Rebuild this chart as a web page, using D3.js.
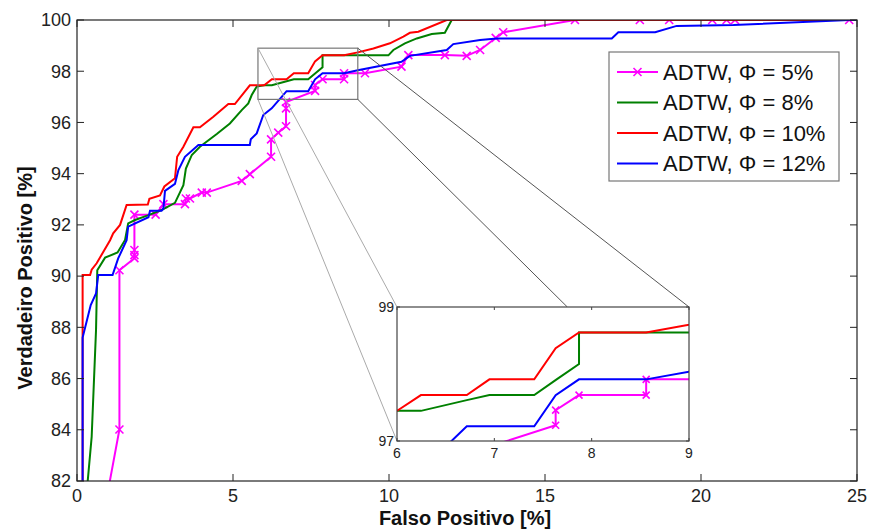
<!DOCTYPE html>
<html>
<head>
<meta charset="utf-8">
<script src="https://cdn.jsdelivr.net/npm/d3@7"></script>
<style>
	body { margin: 0; background: #fff; }
	svg { font-family: "Liberation Sans", Arial, sans-serif; }
</style>
</head>
<body>
<svg width="869" height="529"></svg>
<script>
// ROC curves, false positive [%] vs true positive [%]
const seriesNames = ['ADTW, \u03A6 = 5%', 'ADTW, \u03A6 = 8%', 'ADTW, \u03A6 = 10%', 'ADTW, \u03A6 = 12%'];
const seriesColors = ['#ff00ff', '#008000', '#ff0000', '#0000ff'];

const phi5X = [0.9, 1.36, 1.36, 1.84, 1.84, 1.84, 1.84, 2.52, 2.77, 3.46, 3.49, 3.62, 4.0, 4.16, 5.28, 5.54, 6.22, 6.22, 6.45, 6.7, 6.7, 6.7, 7.63, 7.63, 7.87, 8.56, 8.56, 9.23, 10.4, 10.62, 11.79, 12.49, 12.92, 13.42, 13.66, 15.96, 18.04, 18.98, 20.36, 20.82, 21.09, 24.75];
const phi5Y = [81, 84.01, 90.23, 90.7, 90.82, 91.02, 92.4, 92.4, 92.81, 92.81, 93.03, 93.03, 93.26, 93.26, 93.72, 93.98, 94.66, 95.34, 95.6, 95.85, 96.55, 96.8, 97.235, 97.46, 97.685, 97.685, 97.92, 97.92, 98.18, 98.63, 98.63, 98.6, 98.83, 99.3, 99.52, 100, 100, 100, 100, 100, 100, 100];

const phi8X = [0.27, 0.47, 0.61, 0.65, 0.9, 1.3, 1.54, 1.64, 1.86, 2.29, 2.71, 3.14, 3.41, 3.49, 3.68, 3.94, 4.48, 4.9, 5.28, 5.49, 5.6, 5.76, 6.0, 6.246, 6.717, 6.95, 7.41, 7.64, 7.87, 7.87, 9.98, 10.14, 10.51, 10.89, 11.37, 11.79, 12.01, 25];
const phi8Y = [81, 83.72, 87.9, 90.23, 90.72, 90.92, 91.41, 92.06, 92.19, 92.38, 92.58, 92.86, 93.55, 94.2, 94.73, 95.05, 95.55, 95.96, 96.48, 96.74, 97.07, 97.4, 97.45, 97.45, 97.61, 97.685, 97.685, 97.92, 98.15, 98.62, 98.62, 98.83, 99.09, 99.28, 99.45, 99.5, 100, 100];

const phi10X = [0.18, 0.18, 0.42, 0.47, 0.63, 1.06, 1.16, 1.38, 1.59, 2.27, 2.32, 2.66, 2.8, 3.14, 3.21, 3.41, 3.73, 3.94, 4.37, 4.85, 5.06, 5.54, 6.0, 6.246, 6.717, 6.95, 7.41, 7.63, 7.87, 8.56, 9.0, 9.5, 10.03, 10.46, 10.67, 10.94, 11.85, 25];
const phi10Y = [80, 90.04, 90.04, 90.25, 90.5, 91.4, 91.67, 92.0, 92.78, 92.8, 93.02, 93.15, 93.5, 93.82, 94.66, 95.05, 95.81, 95.81, 96.22, 96.72, 96.72, 97.45, 97.45, 97.685, 97.685, 97.92, 97.92, 98.385, 98.62, 98.62, 98.735, 98.89, 99.09, 99.35, 99.5, 99.54, 100, 100];

const phi12X = [0.18, 0.18, 0.44, 0.61, 0.68, 1.14, 1.32, 1.59, 1.64, 2.29, 2.34, 2.71, 2.77, 2.82, 3.14, 3.25, 3.46, 3.89, 5.54, 5.57, 5.76, 5.97, 6.24, 6.56, 6.717, 7.41, 7.63, 7.87, 8.56, 9.0, 10.4, 10.67, 11.85, 12.06, 12.92, 13.45, 17.14, 17.35, 18.53, 19.22, 21.04, 24.75, 25];
const phi12Y = [80, 87.6, 88.87, 89.32, 90.04, 90.04, 90.69, 91.4, 91.93, 92.3, 92.55, 92.55, 92.64, 93.33, 93.6, 94.14, 94.66, 95.12, 95.12, 95.34, 95.57, 96.29, 96.55, 97.0, 97.22, 97.22, 97.685, 97.92, 97.92, 98.035, 98.37, 98.6, 98.83, 99.06, 99.22, 99.28, 99.28, 99.52, 99.52, 99.77, 99.8, 100, 100];

const xTicks = [0, 5, 10, 15, 20, 25];
const yTicks = [82, 84, 86, 88, 90, 92, 94, 96, 98, 100];
const insetXTicks = [6, 7, 8, 9];
const insetYTicks = [97, 99];
// zoomed region as drawn on the main axes
const zoomBoxX = [5.8, 9];
const zoomBoxY = [96.9, 98.9];

const series = [
	{ x: phi5X, y: phi5Y, marker: true },
	{ x: phi8X, y: phi8Y },
	{ x: phi10X, y: phi10Y },
	{ x: phi12X, y: phi12Y },
].map((s, i) => ({
	name: seriesNames[i],
	color: seriesColors[i],
	marker: !!s.marker,
	points: s.x.map((v, j) => [v, s.y[j]]),
}));

const svg = d3.select('svg');
const margin = { top: 20, left: 77 };
const width = 780;
const height = 461;

const xScale = d3.scaleLinear().domain([0, 25]).range([0, width]);
const yScale = d3.scaleLinear().domain([82, 100]).range([height, 0]);

const defs = svg.append('defs');
defs.append('clipPath').attr('id', 'clip-main')
	.append('rect').attr('width', width).attr('height', height);

const main = svg.append('g')
	.attr('transform', 'translate(' + margin.left + ',' + margin.top + ')');

function drawSeries(g, xs, ys, clipId, markerSize) {
	const line = d3.line()
		.x(d => xs(d[0]))
		.y(d => ys(d[1]));
	const plot = g.append('g').attr('clip-path', 'url(#' + clipId + ')');
	series.forEach(s => {
		plot.append('path')
			.datum(s.points)
			.attr('fill', 'none')
			.attr('stroke', s.color)
			.attr('stroke-width', 2)
			.attr('d', line);
		if (s.marker) {
			plot.selectAll(null)
				.data(s.points)
				.enter().append('path')
				.attr('transform', d => 'translate(' + xs(d[0]) + ',' + ys(d[1]) + ')')
				.attr('d', 'M' + -markerSize + ',' + -markerSize + 'L' + markerSize + ',' + markerSize +
					'M' + -markerSize + ',' + markerSize + 'L' + markerSize + ',' + -markerSize)
				.attr('stroke', s.color)
				.attr('stroke-width', 1.6);
		}
	});
}

drawSeries(main, xScale, yScale, 'clip-main', 4);

// axes box with inward ticks on all sides
function drawBox(g, xs, ys, xt, yt, tickLen, xLabelSize, yLabelSize, xLabelDy, yLabelDx, stroke) {
	const w = xs.range()[1];
	const h = ys.range()[0];
	const axes = g.append('g');
	axes.append('rect')
		.attr('width', w).attr('height', h)
		.attr('fill', 'none')
		.attr('stroke', stroke)
		.attr('stroke-width', 1.2);
	xt.forEach(t => {
		axes.append('line').attr('x1', xs(t)).attr('x2', xs(t)).attr('y1', h).attr('y2', h - tickLen)
			.attr('stroke', stroke);
		axes.append('line').attr('x1', xs(t)).attr('x2', xs(t)).attr('y1', 0).attr('y2', tickLen)
			.attr('stroke', stroke);
		axes.append('text')
			.attr('x', xs(t)).attr('y', h + xLabelDy)
			.attr('text-anchor', 'middle')
			.attr('font-size', xLabelSize)
			.attr('fill', '#222')
			.text(t);
	});
	yt.forEach(t => {
		axes.append('line').attr('x1', 0).attr('x2', tickLen).attr('y1', ys(t)).attr('y2', ys(t))
			.attr('stroke', stroke);
		axes.append('line').attr('x1', w).attr('x2', w - tickLen).attr('y1', ys(t)).attr('y2', ys(t))
			.attr('stroke', stroke);
		axes.append('text')
			.attr('x', -yLabelDx).attr('y', ys(t))
			.attr('dy', '0.35em')
			.attr('text-anchor', 'end')
			.attr('font-size', yLabelSize)
			.attr('fill', '#222')
			.text(t);
	});
}

drawBox(main, xScale, yScale, xTicks, yTicks, 7, 18, 18, 21, 6, '#222');

// zoom rectangle and inset
const insetPos = { left: 397, top: 307 };
const insetX = d3.scaleLinear().domain([6, 9]).range([0, 292]);
const insetY = d3.scaleLinear().domain([97, 99]).range([134, 0]);
const insetPx = (x, y) => [insetPos.left + insetX(x), insetPos.top + insetY(y)];
const mainPx = (x, y) => [margin.left + xScale(x), margin.top + yScale(y)];

svg.append('rect')
	.attr('x', mainPx(zoomBoxX[0], 0)[0])
	.attr('y', mainPx(0, zoomBoxY[1])[1])
	.attr('width', xScale(zoomBoxX[1]) - xScale(zoomBoxX[0]))
	.attr('height', yScale(zoomBoxY[0]) - yScale(zoomBoxY[1]))
	.attr('fill', 'none')
	.attr('stroke', '#777')
	.attr('stroke-width', 1.2);

const connectors = [
	{ from: [zoomBoxX[0], zoomBoxY[1]], to: [6, 99], color: '#aaa' },
	{ from: [zoomBoxX[0], zoomBoxY[0]], to: [6, 97], color: '#aaa' },
	{ from: [zoomBoxX[1], zoomBoxY[1]], to: [9, 99], color: '#555' },
	{ from: [zoomBoxX[1], zoomBoxY[0]], to: [7.75, 99], color: '#555' },
];
connectors.forEach(c => {
	const a = mainPx(c.from[0], c.from[1]);
	const b = insetPx(c.to[0], c.to[1]);
	svg.append('line')
		.attr('x1', a[0]).attr('y1', a[1]).attr('x2', b[0]).attr('y2', b[1])
		.attr('stroke', c.color)
		.attr('stroke-width', 1);
});

defs.append('clipPath').attr('id', 'clip-inset')
	.append('rect').attr('width', 292).attr('height', 134);

const inset = svg.append('g')
	.attr('transform', 'translate(' + insetPos.left + ',' + insetPos.top + ')');
inset.append('rect').attr('width', 292).attr('height', 134).attr('fill', '#fff');
drawSeries(inset, insetX, insetY, 'clip-inset', 3.5);
drawBox(inset, insetX, insetY, insetXTicks, insetYTicks, 3, 14, 14, 17, 3, '#444');

// legend
const legend = svg.append('g');
legend.append('rect')
	.attr('x', 609).attr('y', 52)
	.attr('width', 230).attr('height', 129)
	.attr('fill', '#fff')
	.attr('stroke', '#777')
	.attr('stroke-width', 1.2);
series.forEach((s, i) => {
	const y = 72 + i * 30.5;
	legend.append('line')
		.attr('x1', 617).attr('x2', 658).attr('y1', y).attr('y2', y)
		.attr('stroke', s.color).attr('stroke-width', 2);
	if (s.marker) {
		legend.append('path')
			.attr('transform', 'translate(637.5,' + y + ')')
			.attr('d', 'M-4,-4L4,4M-4,4L4,-4')
			.attr('stroke', s.color).attr('stroke-width', 1.6);
	}
	legend.append('text')
		.attr('x', 663).attr('y', y)
		.attr('dy', '0.36em')
		.attr('font-size', 22)
		.attr('fill', '#111')
		.text(s.name);
});

// axis titles
svg.append('text')
	.attr('x', 465).attr('y', 525)
	.attr('text-anchor', 'middle')
	.attr('font-size', 20)
	.attr('font-weight', 'bold')
	.attr('fill', '#111')
	.text('Falso Positivo [%]');

svg.append('text')
	.attr('transform', 'translate(32,278) rotate(-90)')
	.attr('text-anchor', 'middle')
	.attr('font-size', 20)
	.attr('font-weight', 'bold')
	.attr('fill', '#111')
	.text('Verdadeiro Positivo [%]');
</script>
</body>
</html>
